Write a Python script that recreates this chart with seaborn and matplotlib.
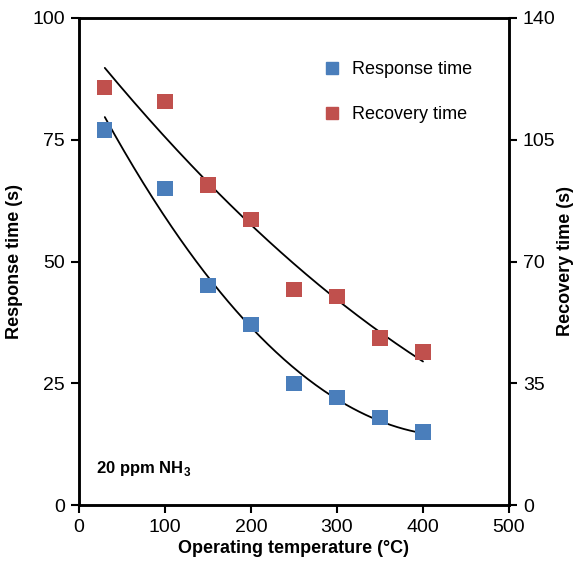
import numpy as np
import pandas as pd
import matplotlib
matplotlib.use('Agg')
import matplotlib.pyplot as plt
import seaborn as sns
from matplotlib.lines import Line2D

# data
temperature = [30, 100, 150, 200, 250, 300, 350, 400]
response_time = [77, 65, 45, 37, 25, 22, 18, 15]
recovery_time = [120, 116, 92, 82, 62, 60, 48, 44]

x_ticks = [0, 100, 200, 300, 400, 500]
left_ticks = [0, 25, 50, 75, 100]
right_ticks = [0, 35, 70, 105, 140]

blue = '#4a7ebb'
red = '#c0504d'

sns.set_style('ticks')
plt.rcParams['font.family'] = ['Liberation Sans', 'DejaVu Sans']
plt.rcParams['mathtext.fontset'] = 'custom'
plt.rcParams['mathtext.bf'] = 'Liberation Sans:bold'
plt.rcParams['mathtext.rm'] = 'Liberation Sans'
for key in ('text.color', 'axes.labelcolor', 'xtick.color', 'ytick.color'):
    plt.rcParams[key] = 'black'

df = pd.DataFrame({'temp': temperature, 'resp': response_time, 'rec': recovery_time})

# second order trendlines like Excel
xs = np.linspace(min(temperature), max(temperature), 200)
resp_fit = np.polyval(np.polyfit(temperature, response_time, 2), xs)
rec_fit = np.polyval(np.polyfit(temperature, recovery_time, 2), xs)

fig = plt.figure(figsize=(5.78, 5.68), dpi=100)
ax = fig.add_axes([79 / 578, 1 - 505 / 568, 430 / 578, 487 / 568])
ax2 = ax.twinx()

sns.scatterplot(data=df, x='temp', y='resp', marker='s', s=120, color=blue,
                edgecolor='none', ax=ax, zorder=3)
sns.lineplot(x=xs, y=resp_fit, color='black', lw=1.3, ax=ax)
sns.scatterplot(data=df, x='temp', y='rec', marker='s', s=120, color=red,
                edgecolor='none', ax=ax2, zorder=3)
sns.lineplot(x=xs, y=rec_fit, color='black', lw=1.3, ax=ax2)

ax.set_xlim(0, 500)
ax.set_ylim(0, 100)
ax2.set_ylim(0, 140)
ax.set_xticks(x_ticks)
ax.set_yticks(left_ticks)
ax2.set_yticks(right_ticks)

ax.set_xlabel('Operating temperature (\u00b0C)', fontsize=13, fontweight='bold', labelpad=3)
ax.set_ylabel('Response time (s)', fontsize=13, fontweight='bold', labelpad=7)
ax2.set_ylabel('Recovery time (s)', fontsize=13, fontweight='bold', labelpad=1)

for a in (ax, ax2):
    a.tick_params(direction='out', length=6, width=1.5, labelsize=14, pad=4,
                  colors='black')
    for sp in a.spines.values():
        sp.set_linewidth(1.8)
        sp.set_color('black')

ax.text(20, 6.5, r'20 ppm NH$_\mathbf{3}$', fontsize=12, fontweight='bold')

handles = [Line2D([], [], marker='s', ls='none', color=blue, markersize=9),
           Line2D([], [], marker='s', ls='none', color=red, markersize=9)]
ax2.legend(handles, ['Response time', 'Recovery time'], loc='upper left',
           bbox_to_anchor=(0.53, 0.945), frameon=False, fontsize=13,
           labelspacing=1.55, handletextpad=0.6, handlelength=1.0,
           labelcolor='black')

fig.savefig('out.png', dpi=100)
